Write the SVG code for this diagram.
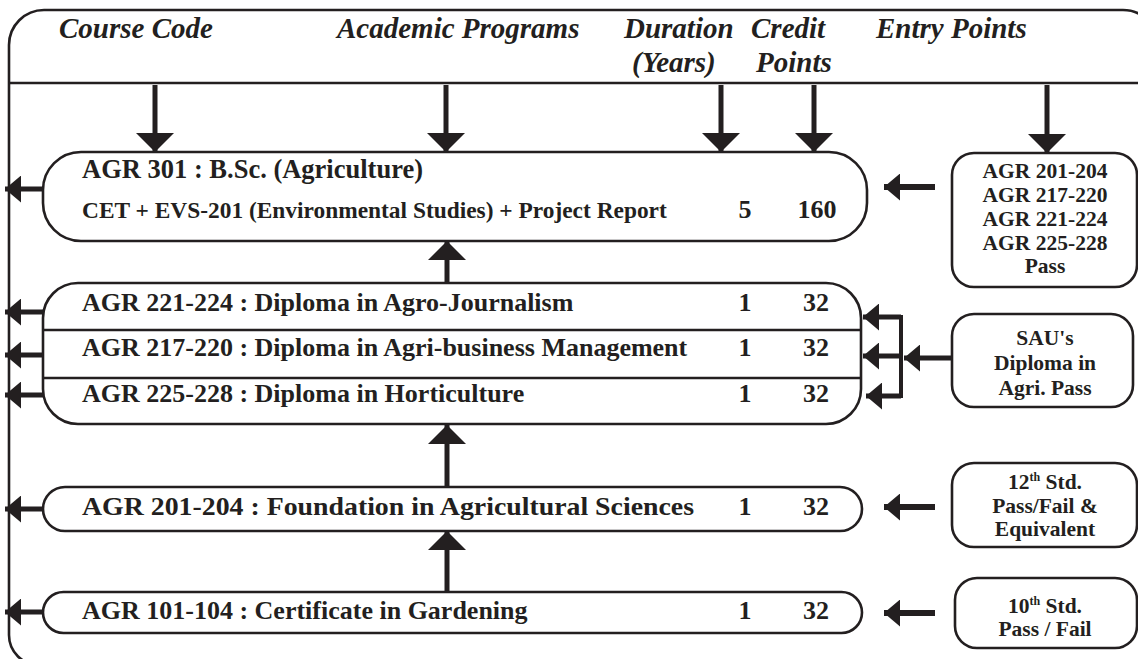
<svg xmlns="http://www.w3.org/2000/svg" width="1138" height="659" viewBox="0 0 1138 659">
<style>
.frame{fill:none;stroke:#231f20;stroke-width:2.6}
.box{fill:#fff;stroke:#231f20;stroke-width:2.6}
.div{stroke:#231f20;stroke-width:2.6}
.hdr{font-family:"Liberation Serif","Times New Roman",serif;font-weight:bold;font-style:italic;font-size:29px;fill:#231f20}
.t{font-family:"Liberation Serif","Times New Roman",serif;font-weight:bold;font-size:26px;fill:#231f20}
.t2{font-family:"Liberation Serif","Times New Roman",serif;font-weight:bold;font-size:23.4px;fill:#231f20}
.e{font-family:"Liberation Serif","Times New Roman",serif;font-weight:bold;font-size:21.5px;fill:#231f20;text-anchor:middle}
.n{text-anchor:middle}
.sh{stroke:#231f20;stroke-width:5;fill:none}
.sh6{stroke:#231f20;stroke-width:6;fill:none}
.br{stroke:#231f20;stroke-width:4;fill:none}
</style>
<defs>
<marker id="big" viewBox="0 0 19 38" refX="19" refY="19" markerWidth="19" markerHeight="38" markerUnits="userSpaceOnUse" orient="auto">
<path d="M0,0 L19,19 L0,38 Z" fill="#231f20"/>
</marker>
<marker id="sm" viewBox="0 0 16 27" refX="16" refY="13.5" markerWidth="16" markerHeight="27" markerUnits="userSpaceOnUse" orient="auto">
<path d="M0,0 L16,13.5 L0,27 Z" fill="#231f20"/>
</marker>
</defs>
<rect width="1138" height="659" fill="#fff"/>
<g id="frame">
<path class="frame" d="M39,665 A30 30 0 0 1 9 635 L9 45 A35 35 0 0 1 44 10 L1123 10 A35 35 0 0 1 1158 45"/>
<line class="frame" x1="9" y1="83" x2="1140" y2="83"/>
</g>
<g id="header">
<text class="hdr" x="59" y="38">Course Code</text>
<text class="hdr" x="337" y="38">Academic Programs</text>
<text class="hdr" x="624" y="38">Duration</text>
<text class="hdr" x="632" y="72">(Years)</text>
<text class="hdr" x="751" y="38">Credit</text>
<text class="hdr" x="756" y="72">Points</text>
<text class="hdr" x="876" y="38">Entry Points</text>
</g>
<g id="bsc">
<rect class="box" x="43" y="152" width="824" height="89" rx="38" ry="38"/>
<text class="t" x="82" y="178" style="font-size:26.5px">AGR 301 : B.Sc. (Agriculture)</text>
<text class="t2" x="82" y="218">CET + EVS-201 (Environmental Studies) + Project Report</text>
<text class="t n" x="745" y="218">5</text>
<text class="t n" x="817" y="218">160</text>
</g>
<g id="diplomas">
<rect class="box" x="43" y="283" width="818" height="141" rx="35" ry="35"/>
<line class="div" x1="43" y1="330" x2="861" y2="330"/>
<line class="div" x1="43" y1="378" x2="861" y2="378"/>
<text class="t" x="82" y="311">AGR 221-224 : Diploma in Agro-Journalism</text>
<text class="t n" x="745" y="311">1</text>
<text class="t n" x="816" y="311">32</text>
<text class="t" x="82" y="356">AGR 217-220 : Diploma in Agri-business Management</text>
<text class="t n" x="745" y="356">1</text>
<text class="t n" x="816" y="356">32</text>
<text class="t" x="82" y="402">AGR 225-228 : Diploma in Horticulture</text>
<text class="t n" x="745" y="402">1</text>
<text class="t n" x="816" y="402">32</text>
</g>
<g id="foundation">
<rect class="box" x="43" y="487" width="819" height="44" rx="22" ry="22"/>
<text class="t" x="82" y="515" textLength="612" lengthAdjust="spacingAndGlyphs">AGR 201-204 : Foundation in Agricultural Sciences</text>
<text class="t n" x="745" y="515">1</text>
<text class="t n" x="816" y="515">32</text>
</g>
<g id="certificate">
<rect class="box" x="43" y="592" width="819" height="41" rx="20.5" ry="20.5"/>
<text class="t" x="82" y="619">AGR 101-104 : Certificate in Gardening</text>
<text class="t n" x="745" y="619">1</text>
<text class="t n" x="816" y="619">32</text>
</g>
<g id="entry-pass">
<rect class="box" x="952" y="153" width="185" height="134" rx="22" ry="22"/>
<text class="e" x="1045" y="178">AGR 201-204</text>
<text class="e" x="1045" y="202">AGR 217-220</text>
<text class="e" x="1045" y="226">AGR 221-224</text>
<text class="e" x="1045" y="250">AGR 225-228</text>
<text class="e" x="1045" y="273">Pass</text>
</g>
<g id="entry-sau">
<rect class="box" x="952" y="314" width="181" height="93" rx="22" ry="22"/>
<text class="e" x="1045" y="345">SAU's</text>
<text class="e" x="1045" y="370">Diploma in</text>
<text class="e" x="1045" y="395">Agri. Pass</text>
</g>
<g id="entry-12th">
<rect class="box" x="952" y="463" width="185" height="84" rx="22" ry="22"/>
<text class="e" x="1045" y="489">12<tspan style="font-size:12px" dy="-8">th</tspan><tspan dy="8"> Std.</tspan></text>
<text class="e" x="1045" y="513">Pass/Fail &amp;</text>
<text class="e" x="1045" y="536">Equivalent</text>
</g>
<g id="entry-10th">
<rect class="box" x="955" y="578" width="182" height="70" rx="22" ry="22"/>
<text class="e" x="1045" y="613">10<tspan style="font-size:12px" dy="-8">th</tspan><tspan dy="8"> Std.</tspan></text>
<text class="e" x="1045" y="636">Pass / Fail</text>
</g>
<g id="connectors">
<line class="sh" x1="155" y1="85" x2="155" y2="152" marker-end="url(#big)"/>
<line class="sh" x1="446" y1="85" x2="446" y2="152" marker-end="url(#big)"/>
<line class="sh" x1="721" y1="85" x2="721" y2="152" marker-end="url(#big)"/>
<line class="sh" x1="814" y1="85" x2="814" y2="152" marker-end="url(#big)"/>
<line class="sh" x1="1047" y1="85" x2="1047" y2="153" marker-end="url(#big)"/>
<line class="sh" x1="447" y1="283" x2="447" y2="241" marker-end="url(#big)"/>
<line class="sh" x1="447" y1="487" x2="447" y2="425" marker-end="url(#big)"/>
<line class="sh" x1="447" y1="592" x2="447" y2="531" marker-end="url(#big)"/>
<line class="sh" x1="43" y1="189" x2="5" y2="189" marker-end="url(#sm)"/>
<line class="sh" x1="43" y1="312" x2="5" y2="312" marker-end="url(#sm)"/>
<line class="sh" x1="43" y1="355" x2="5" y2="355" marker-end="url(#sm)"/>
<line class="sh" x1="43" y1="395" x2="5" y2="395" marker-end="url(#sm)"/>
<line class="sh" x1="43" y1="509" x2="5" y2="509" marker-end="url(#sm)"/>
<line class="sh" x1="43" y1="612" x2="5" y2="612" marker-end="url(#sm)"/>
<line class="sh6" x1="935" y1="187" x2="884" y2="187" marker-end="url(#sm)"/>
<line class="sh6" x1="935" y1="507" x2="884" y2="507" marker-end="url(#sm)"/>
<line class="sh6" x1="935" y1="613" x2="884" y2="613" marker-end="url(#sm)"/>
<line class="sh" x1="952" y1="358" x2="904" y2="358" marker-end="url(#sm)"/>
<line class="br" x1="901" y1="315" x2="901" y2="398"/>
<line class="sh" x1="901" y1="317" x2="863" y2="317" marker-end="url(#sm)"/>
<line class="sh" x1="901" y1="356" x2="863" y2="356" marker-end="url(#sm)"/>
<line class="sh" x1="901" y1="396" x2="866" y2="396" marker-end="url(#sm)"/>
</g>
</svg>
